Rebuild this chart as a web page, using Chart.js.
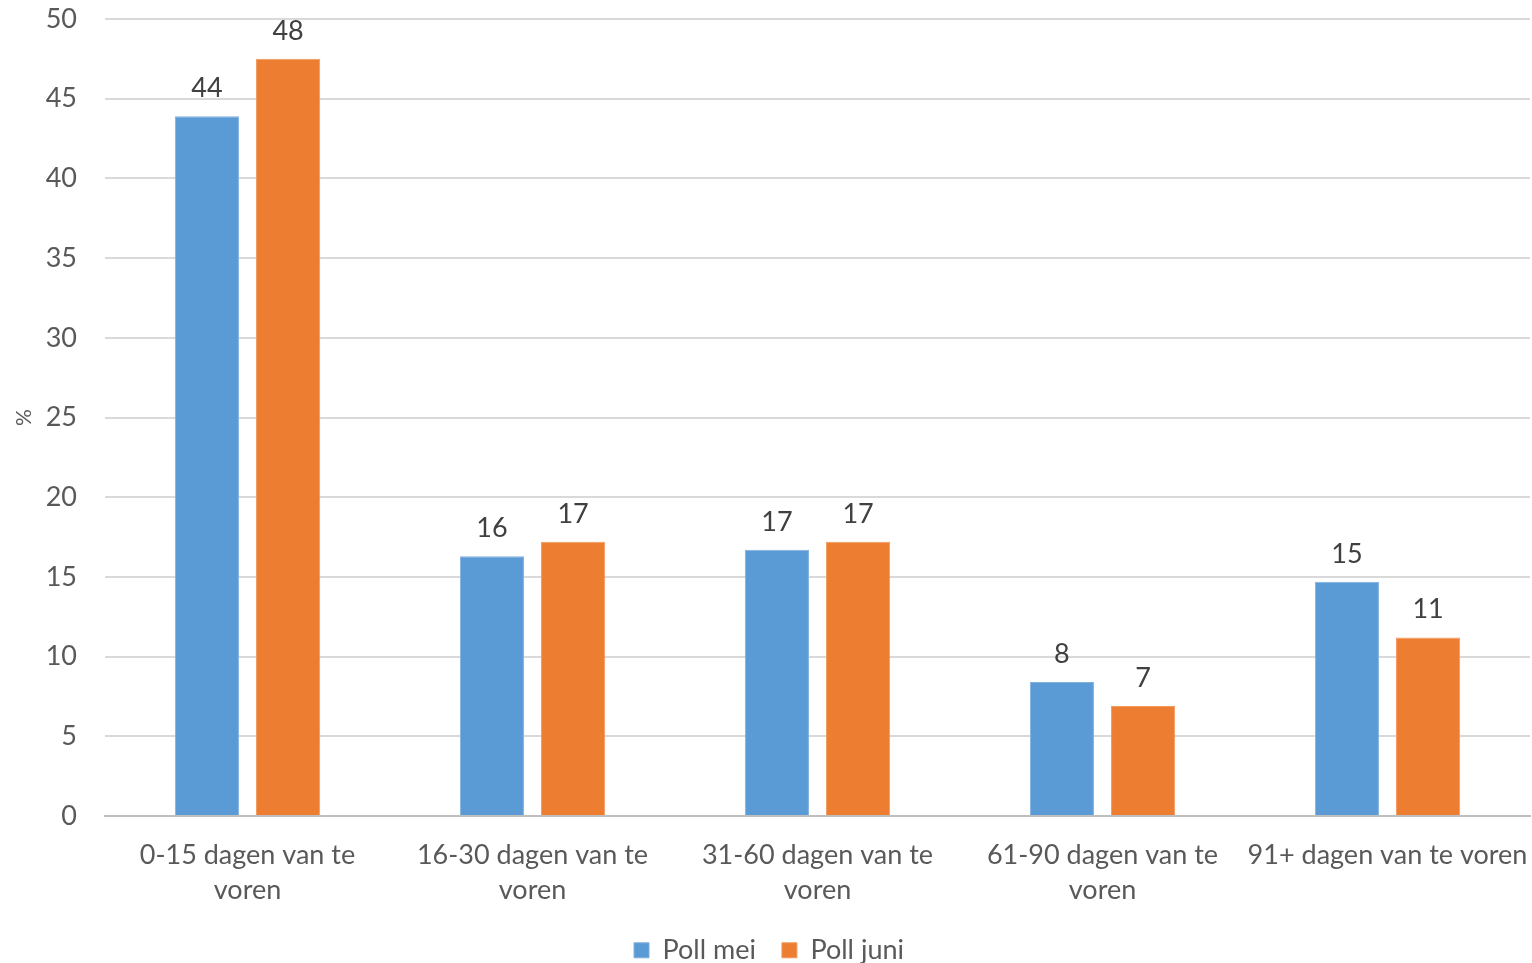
<!DOCTYPE html>
<html>
<head>
<meta charset="utf-8">
<script src="https://cdn.jsdelivr.net/npm/chart.js@4"></script>
<style>
  html, body { margin: 0; padding: 0; background: #fff; }
  #wrap { width: 1532px; height: 963px; }
</style>
</head>
<body>
<div id="wrap"><canvas id="pollChart"></canvas></div>
<script>
const categories = [
  ['0-15 dagen van te', 'voren'],
  ['16-30 dagen van te', 'voren'],
  ['31-60 dagen van te', 'voren'],
  ['61-90 dagen van te', 'voren'],
  '91+ dagen van te voren'
];
const pollMei = [43.9, 16.3, 16.7, 8.4, 14.7];
const pollJuni = [47.5, 17.2, 17.2, 6.9, 11.2];
const yTicks = [0, 5, 10, 15, 20, 25, 30, 35, 40, 45, 50];

const FONT = 'Lato, "Open Sans", sans-serif';
const LEGEND_PAD = 26;

// simple value labels above the bars
const barLabels = {
  id: 'barLabels',
  afterDatasetsDraw(chart) {
    const c = chart.ctx;
    c.save();
    c.font = '27px ' + FONT;
    c.fillStyle = '#404040';
    c.textAlign = 'center';
    c.textBaseline = 'alphabetic';
    chart.data.datasets.forEach((ds, i) => {
      chart.getDatasetMeta(i).data.forEach((bar, j) => {
        c.fillText(Math.round(ds.data[j]), bar.x, bar.y - 19);
      });
    });
    c.restore();
  }
};

// push the legend row down near the bottom edge like the original
const legendShift = {
  id: 'legendShift',
  afterLayout(chart) {
    const l = chart.legend;
    l.top = 953 - LEGEND_PAD - 27 * 1.2 / 2;
    l.bottom = chart.height;
  }
};

document.addEventListener("DOMContentLoaded", ()=>{

const ctx = document.getElementById('pollChart');

new Chart(ctx, {
  type: 'bar',
  data: {
    labels: categories,
    datasets: [
      {
        label: 'Poll mei',
        data: pollMei,
        backgroundColor: '#5b9bd5',
        borderColor: '#7fb0de',
        borderWidth: 1,
        categoryPercentage: 0.57,
        barPercentage: 0.79
      },
      {
        label: 'Poll juni',
        data: pollJuni,
        backgroundColor: '#ed7d31',
        borderColor: '#f19a5e',
        borderWidth: 1,
        categoryPercentage: 0.57,
        barPercentage: 0.79
      }
    ]
  },
  plugins: [barLabels, legendShift],
  options: {
    responsive: true,
    maintainAspectRatio: false,
    animation: false,
    layout: { autoPadding: false, padding: { top: 19, right: 2, left: 8, bottom: 0 } },
    plugins: {
      legend: {
        position: 'bottom',
        maxHeight: 41,
        labels: {
          font: { size: 27, family: FONT },
          color: '#595959',
          boxWidth: 15,
          boxHeight: 15,
          padding: LEGEND_PAD
        }
      },
      tooltip: { enabled: false }
    },
    scales: {
      x: {
        grid: { display: false },
        border: { display: true, color: '#bfbfbf', width: 2 },
        ticks: {
          font: { size: 27, family: FONT, lineHeight: 1.3 },
          color: '#595959',
          padding: 14,
          maxRotation: 0,
          autoSkip: false
        },
        afterFit: s => { s.height = 106; s.paddingLeft = 0; s.paddingRight = 0; }
      },
      y: {
        min: 0,
        max: 50,
        afterBuildTicks: axis => { axis.ticks = yTicks.map(v => ({ value: v })); },
        afterFit: s => { s.width = 97; s.paddingTop = 0; s.paddingBottom = 0; },
        grid: { color: '#d9d9d9', lineWidth: 2, drawTicks: false },
        border: { display: false },
        ticks: {
          font: { size: 27, family: FONT },
          color: '#595959',
          padding: 28
        },
        title: {
          display: true,
          text: '%',
          font: { size: 21, family: FONT },
          color: '#595959',
          padding: { top: 4, bottom: 10 }
        }
      }
    }
  }
});

});
</script>
</body>
</html>
